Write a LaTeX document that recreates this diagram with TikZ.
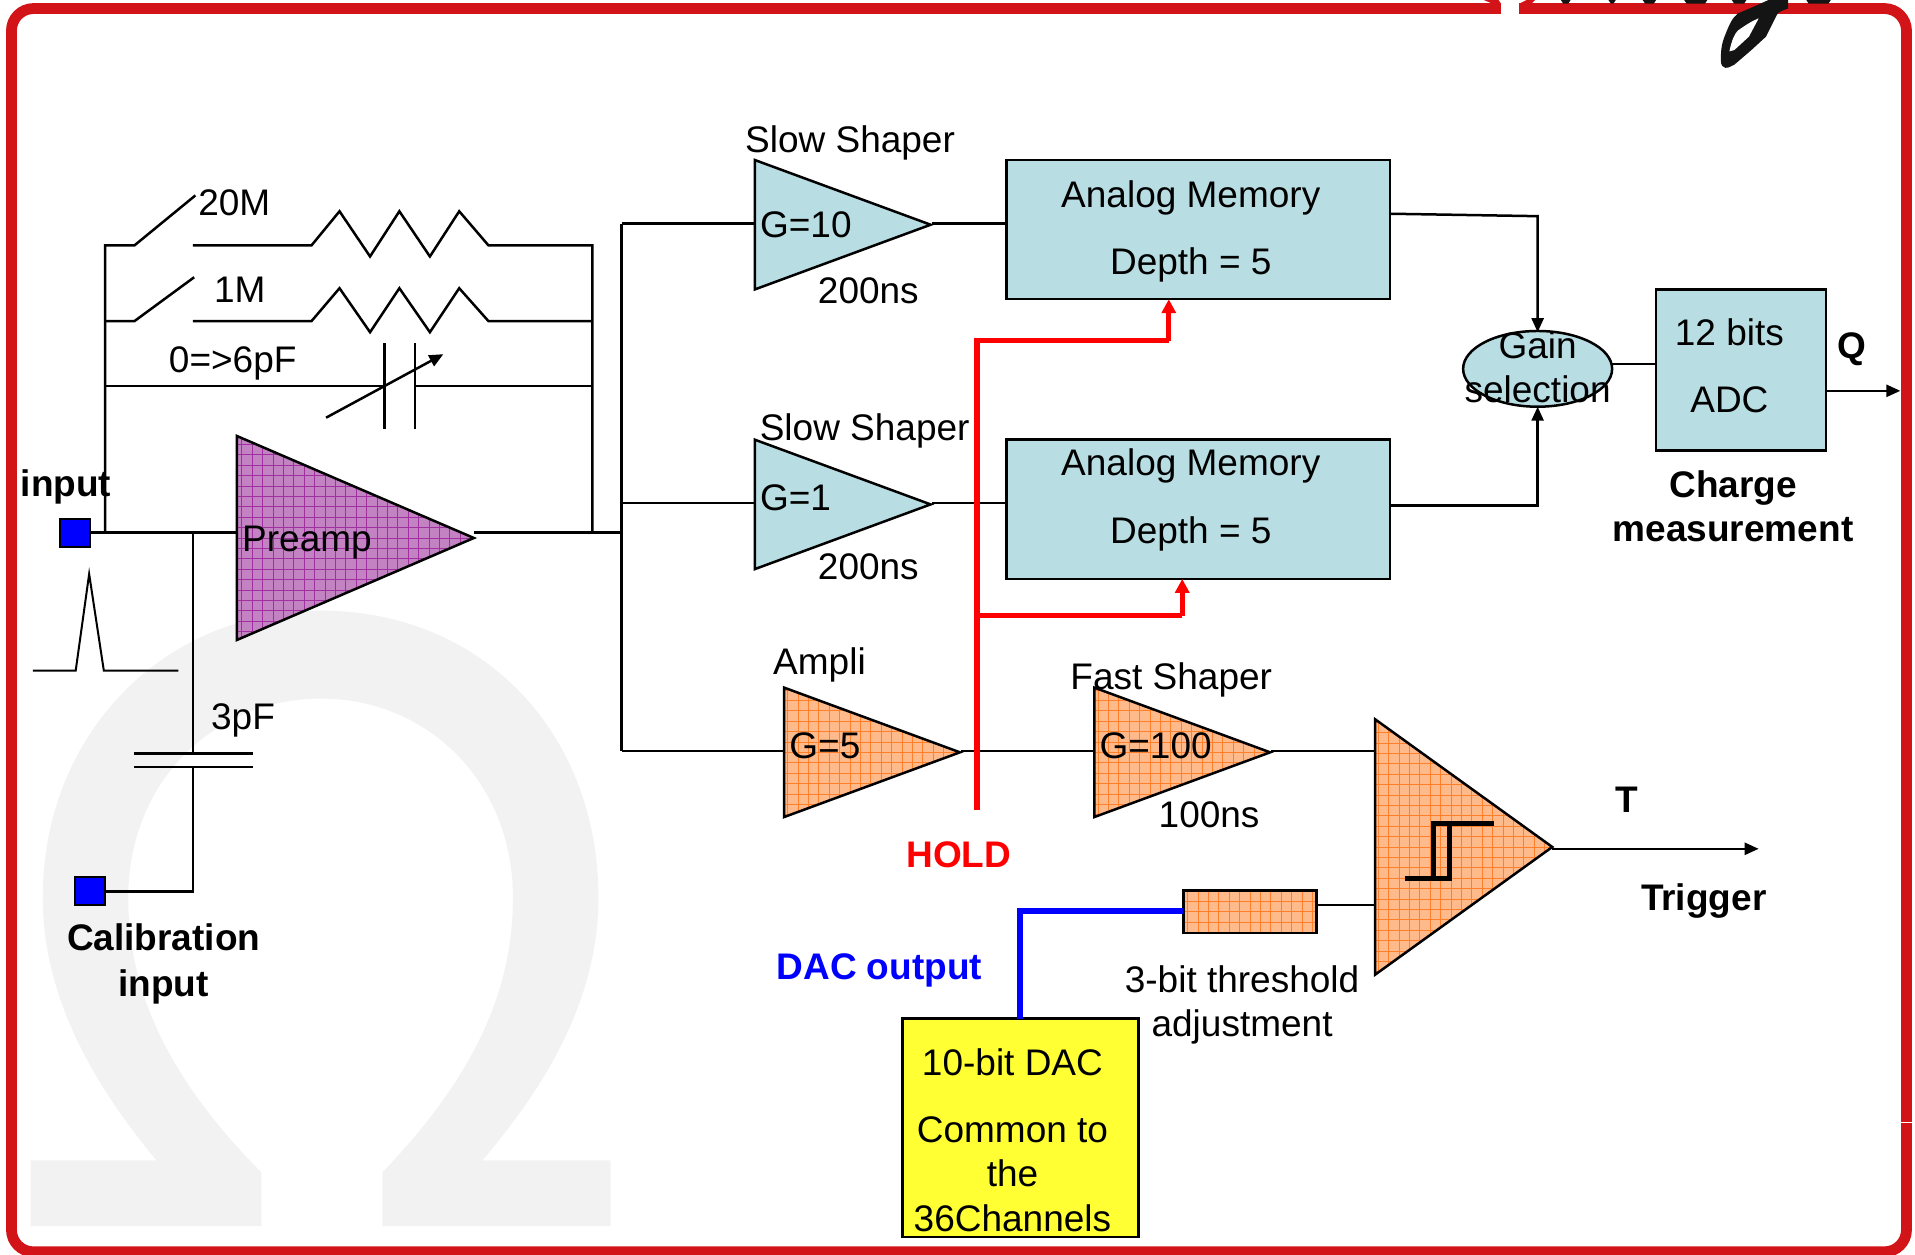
\documentclass[tikz,border=0pt]{standalone}
\usepackage{fontspec}
\setmainfont{Liberation Sans}
\usetikzlibrary{shapes.geometric,arrows.meta}
\def\uu{0.61065pt}
\definecolor{framered}{HTML}{D21317}
\definecolor{wm}{HTML}{F2F2F2}
\definecolor{teal}{HTML}{B8DEE3}
\definecolor{purp}{HTML}{C383C3}
\definecolor{purpg}{HTML}{A030A0}
\definecolor{oran}{HTML}{FFBA8C}
\definecolor{orang}{HTML}{FF7F2A}
\definecolor{yel}{HTML}{FFFF33}
\tikzset{
 wire/.style={line width=1.25pt,line cap=butt},
 arr/.style={wire,-{Triangle[length=7pt,width=6pt]}},
 redw/.style={line width=2.6pt,red},
 redarr/.style={redw,-{Triangle[length=7pt,width=7pt]}},
 bluew/.style={line width=2.8pt,blue},
 txt/.style={font=\fontsize{18.5}{22}\selectfont,inner sep=0pt,text height=15pt,text depth=2pt},
 btxt/.style={txt,font=\fontsize{18.5}{22}\selectfont\bfseries},
 ltxt/.style={txt,anchor=west},
 hatched/.style={path picture={\draw[#1,line width=.35pt,step=5.2pt]
   (path picture bounding box.south west) grid (path picture bounding box.north east);}},
 amp/.style 2 args={isosceles triangle,isosceles triangle stretches,shape border rotate=0,
   inner sep=0pt,outer sep=0pt,anchor=lower side,minimum height=#1*\uu,minimum width=#2*\uu,
   draw,line width=1.25pt},
 tealamp/.style={amp={144}{106},fill=teal},
 orangeamp/.style={amp={144}{106},fill=oran,hatched=orang},
 boxb/.style 2 args={rectangle,draw,line width=1.25pt,inner sep=0pt,outer sep=0pt,minimum width=#1*\uu,minimum height=#2*\uu},
 memory/.style={boxb={314}{114},fill=teal},
 port/.style={rectangle,draw,line width=1pt,fill=blue,minimum width=25*\uu,minimum height=23*\uu,inner sep=0pt,outer sep=0pt},
}
\begin{document}
\begin{tikzpicture}[x=\uu,y=-\uu]
\useasboundingbox (0,0) rectangle (1568,1026.8);
\begin{scope}
\clip (0,0) rectangle (1568,1026.8);
% Omega watermark
\fill[wm] (25,950) -- (128,950) .. controls (70,880) and (35,810) .. (35,735)
  .. controls (35,600) and (135,500) .. (263,500) .. controls (395,500) and (490,600) .. (490,735)
  .. controls (490,810) and (455,880) .. (395,950) -- (500,950) -- (500,1004) -- (313,1004) -- (313,960)
  .. controls (380,890) and (420,820) .. (420,735) .. controls (420,640) and (350,572) .. (263,572)
  .. controls (175,572) and (105,640) .. (105,735) .. controls (105,820) and (145,890) .. (214,960)
  -- (214,1004) -- (25,1004) -- cycle;
% frame
\draw[framered,line width=5.4pt,rounded corners=11pt] (9.4,7) rectangle (1561,1025);
\fill[white] (1229,0) rectangle (1244,14);
\fill[white] (1555,918.4) rectangle (1568,919.2);
\fill[framered] (1215,0) -- (1227,0) -- (1229,3) -- (1222,3) -- cycle;
\fill[framered] (1250,0) -- (1257,0) -- (1254,3) -- (1244,3) -- cycle;
% logo remnants
\fill[black!92] (1464,7) .. controls (1458,9) and (1456,10) .. (1455,12) -- (1446,30) -- (1434,41) -- (1420,53)
  .. controls (1415,56) and (1409,58) .. (1409,49) .. controls (1409,40) and (1410,35) .. (1412,30)
  .. controls (1416,20) and (1418,15) .. (1423,11) -- (1437,5) -- (1448,0) -- (1464,0) -- cycle;
\fill[white] (1416,42) .. controls (1418,33) and (1420,28) .. (1423,25) .. controls (1430,20) and (1435,17) .. (1440,15) -- (1432,30) -- (1420,41) -- cycle;
\foreach \xa/\xb in {1278/1286,1317/1323,1345/1356,1379/1398,1418/1430,1479/1499}
  \fill[black!92] (\xa,0) -- (\xb,0) -- ({\xb-2},3) -- ({\xa+2},3) -- cycle;
\end{scope}

% shapes
\node[port] (in) at (61.5,436.5) {};
\node[port] (cal) at (73.5,729.5) {};
\node[amp={194}{167},fill=purp,hatched=purpg] (pre) at (194,440.5) {};
\node[tealamp] (ss1) at (618,184) {};
\node[tealamp] (ss2) at (618,413) {};
\node[orangeamp] (amp5) at (642,616) {};
\node[orangeamp] (fast) at (896,616) {};
\node[amp={145}{209},fill=oran,hatched=orang] (comp) at (1126,693.5) {};
\node[memory] (mem1) at (981,188) {};
\node[memory] (mem2) at (981,417) {};
\node[boxb={139}{132},fill=teal] (adc) at (1425.5,303) {};
\node[ellipse,draw,line width=1.25pt,fill=teal,minimum width=122*\uu,minimum height=62*\uu,inner sep=0pt,outer sep=0pt] (gain) at (1259,302) {};
\node[boxb={109}{35},fill=oran,hatched=orang] (thr) at (1023.5,746.5) {};
\node[boxb={193}{179},fill=yel] (dac) at (835.5,923.5) {};

% junctions and free ends
\foreach \n/\x/\y in {jin/86/436,jcal/158/436,jpre/194/436,jout/388/436,jfb/485/436,jbus/509/436,
  bus1/509/183,bus2/509/412,bus3/509/615,
  r1a/86/201,r1b/110/201,r1c/160/160,r1d/158/201,r1e/255/201,r1f/485/201,
  r2a/86/263,r2b/110/263,r2c/159/227,r2d/158/263,r2e/255/263,r2f/485/263,
  c3a/86/316,c3b/315/316,c3c/340/316,c3d/485/316,cp1a/315/281,cp1b/315/351,cp2a/340/281,cp2b/340/351,
  va1/267/342,va2/363/290,
  s1i/618/183,s1o/763/183,m1i/824/183,s2i/618/412,s2o/763/412,m2i/824/412,
  a5i/642/615,a5o/787/615,fi/896/615,fo/1041/615,ci/1126/615,
  co/1271/695,te/1440/695,qe/1556/320,
  hb/800/663,ht/800/279,h1/957/279,h2m/800/504,h2/968/504,
  m1o/1138/175,g1/1259/177,m2o/1138/414,g2/1259/414,
  gi1/1259/272,gi2/1259/333,gr/1320/298,al/1356/298,ao/1495/320,
  thi/1126/741,thl/1078/741,thb/969/746,dk/835/746,dd/835/834,
  ct/158/617,cb/158/628,cpa1/110/617,cpa2/207/617,cpb1/110/628,cpb2/207/628,cc/158/730,cal2/86/730}
  \coordinate (\n) at (\x,\y);

% feedback
\draw[wire] (jin) -- (r1a) -- (r1b) -- (r1c);
\draw[wire] (r1d) -- (r1e) -- (278,173) -- (303,210) -- (327,173) -- (352,210) -- (376,173) -- (400,201) -- (r1f) -- (jfb);
\draw[wire] (r2a) -- (r2b) -- (r2c);
\draw[wire] (r2d) -- (r2e) -- (278,236) -- (303,272) -- (327,236) -- (352,272) -- (376,236) -- (400,263) -- (r2f);
\draw[wire] (c3a) -- (c3b);
\draw[wire] (c3c) -- (c3d);
\draw[wire] (cp1a) -- (cp1b);
\draw[wire] (cp2a) -- (cp2b);
\draw[arr] (va1) -- (va2);

% main line
\draw[wire] (in.east |- jin) -- (jpre);
\draw[wire] (jout) -- (jbus);
\draw[wire] (bus1) -- (bus3);
\draw[wire] (bus1) -- (s1i);
\draw[wire] (bus2) -- (s2i);
\draw[wire] (bus3) -- (a5i);
\draw[wire] (s1o) -- (m1i);
\draw[wire] (s2o) -- (m2i);
\draw[wire] (a5o) -- (fi);
\draw[wire] (fo) -- (ci);
\draw[arr] (co) -- (te);

% memories to gain to adc
\draw[wire,-{Triangle[length=7pt,width=6pt]}] (m1o) -- (g1) -- (gi1);
\draw[wire,-{Triangle[length=7pt,width=6pt]}] (m2o) -- (g2) -- (gi2);
\draw[wire] (gr) -- (al);
\draw[arr] (ao) -- (qe);

% threshold
\draw[wire] (thl) -- (thi);
\draw[bluew] (thb) -- (dk) -- (dd);

% hold
\draw[redw] (hb) -- (ht) -- (h1);
\draw[redarr] (h1) -- (mem1.south -| h1);
\draw[redw] (h2m) -- (h2);
\draw[redarr] (h2) -- (mem2.south -| h2);

% comparator symbol
\draw[line width=2.4pt] (1150,719) -- (1187,719) -- (1187,674);
\draw[line width=2.4pt] (1174,719) -- (1174,674) -- (1223,674);

% calibration
\draw[wire] (jcal) -- (ct);
\draw[wire] (cpa1) -- (cpa2);
\draw[wire] (cpb1) -- (cpb2);
\draw[wire] (cb) -- (cc) -- (cal2);
\draw[line width=1pt] (27,549) -- (62,549) -- (73,470) -- (85,549) -- (146,549);

% text
\node[btxt] (t1) at (54,396) {input};
\node[ltxt] (t2) at (162,166) {20M};
\node[ltxt] (t3) at (175,237) {1M};
\node[ltxt] (t4) at (138,294) {0=>6pF};
\node[ltxt] (t5) at (198,441) {Preamp};
\node[txt] (t6) at (199,587) {3pF};
\node[btxt] (t7) at (134,768) {Calibration};
\node[btxt] (t8) at (134,805) {input};
\node[txt] (t9) at (696,114) {Slow Shaper};
\node[ltxt] (t10) at (622,184) {G=10};
\node[txt] (t11) at (711,238) {200ns};
\node[txt] (t12) at (708,350) {Slow Shaper};
\node[ltxt] (t13) at (622,407) {G=1};
\node[txt] (t14) at (711,464) {200ns};
\node[txt] (t15) at (671,542) {Ampli};
\node[ltxt] (t16) at (646,610) {G=5};
\node[txt] (t17) at (959,554) {Fast Shaper};
\node[ltxt] (t18) at (900,610) {G=100};
\node[txt] (t19) at (990,667) {100ns};
\node[txt] (t20) at (975,159) {Analog Memory};
\node[txt] (t21) at (975,214) {Depth = 5};
\node[txt] (t22) at (975,379) {Analog Memory};
\node[txt] (t23) at (975,434) {Depth = 5};
\node[txt] (t24) at (1259,283) {Gain};
\node[txt] (t25) at (1259,319) {selection};
\node[txt] (t26) at (1416,272) {12 bits};
\node[txt] (t27) at (1416,327) {ADC};
\node[btxt] (t28) at (1516,283) {Q};
\node[btxt] (t29) at (1419,397) {Charge};
\node[btxt] (t30) at (1419,433) {measurement};
\node[btxt] (t31) at (1332,655) {T};
\node[btxt] (t32) at (1395,735) {Trigger};
\node[btxt,text=red] (t33) at (785,700) {HOLD};
\node[btxt,text=blue] (t34) at (720,791) {DAC output};
\node[txt] (t35) at (1017,802) {3-bit threshold};
\node[txt] (t36) at (1017,838) {adjustment};
\node[txt] (t37) at (829,870) {10-bit DAC};
\node[txt] (t38) at (829,925) {Common to};
\node[txt] (t39) at (829,961) {the};
\node[txt] (t40) at (829,998) {36Channels};
\end{tikzpicture}
\end{document}
